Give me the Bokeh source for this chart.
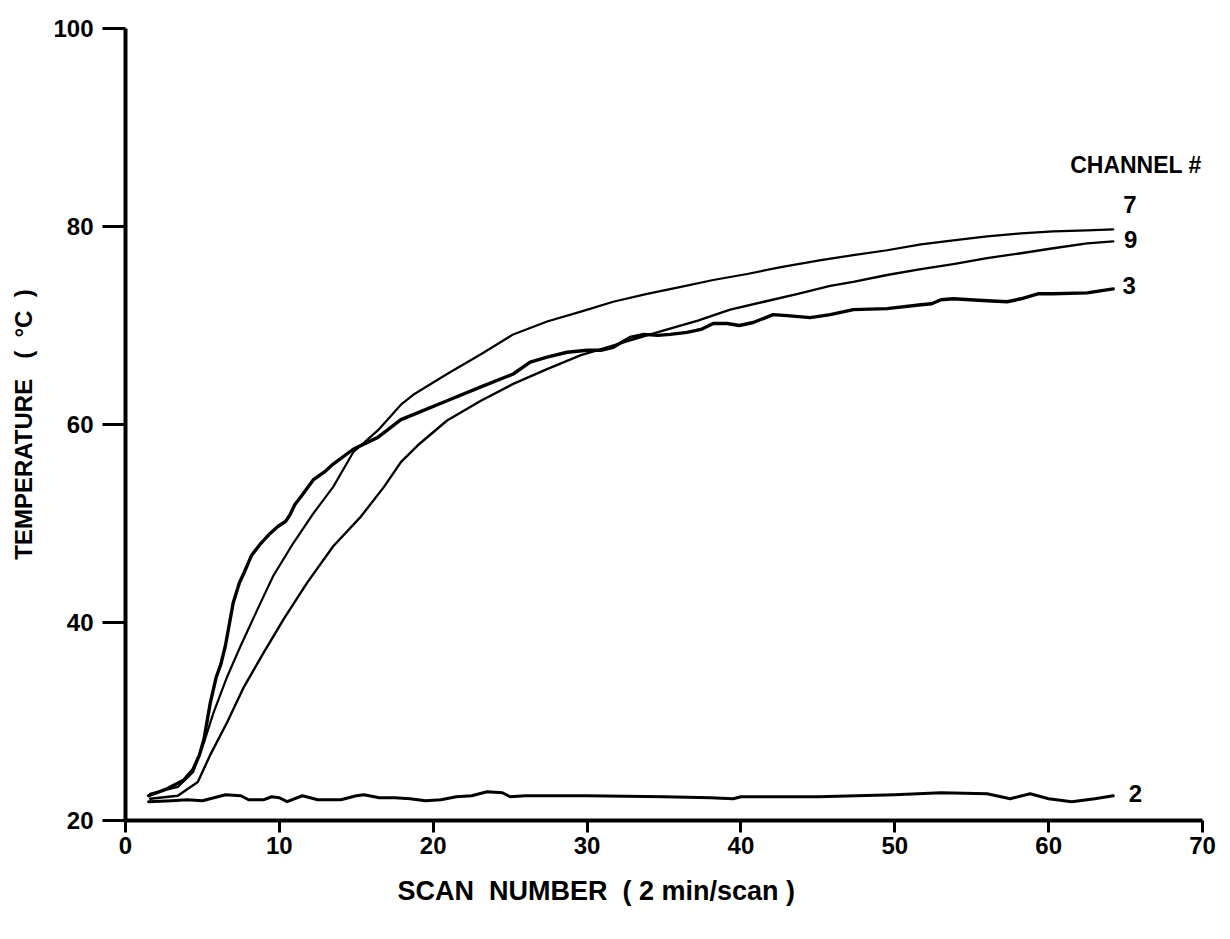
import math
from bokeh.plotting import figure
from bokeh.models import Label, FixedTicker, Range1d, Title
from bokeh.core.properties import value
from bokeh.embed import file_html
from bokeh.resources import INLINE

# ---- data ----
scan_ch7 = [1.6, 3.4, 4.4, 5.1, 5.7, 6.6, 7.5, 8.6, 9.6, 10.9, 12.2, 13.5, 14.8, 16.4, 17.9, 18.7,
            20.9, 23.1, 25.2, 27.4, 29.6, 31.7, 33.9, 36.1, 38.2, 40.4, 42.6, 45.2, 47.3, 49.5,
            51.7, 53.8, 56.0, 58.2, 60.3, 62.5, 64.2]
temp_ch7 = [22.7, 23.4, 24.9, 27.9, 30.8, 34.5, 37.7, 41.4, 44.7, 48.0, 51.0, 53.7, 57.2, 59.4, 62.0, 63.0,
            65.1, 67.1, 69.1, 70.4, 71.4, 72.4, 73.2, 73.9, 74.6, 75.2, 75.9, 76.6, 77.1, 77.6,
            78.2, 78.6, 79.0, 79.3, 79.5, 79.6, 79.7]

scan_ch9 = [1.6, 3.4, 4.7, 5.5, 6.6, 7.7, 9.0, 10.3, 11.8, 13.5, 15.3, 16.8, 17.9, 19.0, 20.9, 23.1,
            25.2, 27.4, 29.6, 31.3, 32.8, 35.0, 37.2, 39.3, 41.5, 43.7, 45.8, 47.3, 49.5, 51.7,
            53.8, 56.0, 58.2, 60.3, 62.5, 64.2]
temp_ch9 = [22.2, 22.5, 23.9, 26.6, 29.9, 33.5, 37.0, 40.4, 44.0, 47.7, 50.7, 53.7, 56.2, 57.9, 60.4, 62.4,
            64.1, 65.6, 67.0, 67.8, 68.5, 69.5, 70.5, 71.6, 72.4, 73.2, 74.0, 74.4, 75.1, 75.7,
            76.2, 76.8, 77.3, 77.8, 78.3, 78.5]

scan_ch3 = [1.5, 2.7, 3.8, 4.4, 4.8, 5.1, 5.5, 5.9, 6.2, 6.5, 7.0, 7.4, 7.7, 8.2, 8.8, 9.4, 9.9, 10.4, 10.7,
            11.0, 11.4, 12.2, 13.0, 13.5, 14.8, 16.4, 17.9, 18.7, 20.9, 23.1, 25.2, 26.3, 27.4, 28.7,
            30.0, 30.9, 31.7, 32.8, 33.7, 34.6, 35.4, 36.5, 37.4, 38.2, 39.1, 39.9, 40.8, 42.1, 43.0,
            44.5, 45.8, 47.3, 49.5, 51.7, 52.4, 53.0, 53.8, 56.0, 57.3, 58.2, 59.3, 60.3, 62.5, 64.2]
temp_ch3 = [22.5, 23.2, 24.1, 25.2, 26.6, 28.2, 31.8, 34.5, 35.8, 37.7, 42.0, 44.0, 45.0, 46.8, 48.0, 49.0,
            49.7, 50.2, 50.9, 51.9, 52.7, 54.4, 55.3, 56.0, 57.5, 58.7, 60.5, 61.0, 62.4, 63.8, 65.1, 66.3,
            66.8, 67.3, 67.5, 67.5, 67.8, 68.8, 69.1, 69.0, 69.1, 69.3, 69.6, 70.2, 70.2, 70.0, 70.3,
            71.1, 71.0, 70.8, 71.1, 71.6, 71.7, 72.1, 72.2, 72.6, 72.7, 72.5, 72.4, 72.7, 73.2, 73.2,
            73.3, 73.7]

scan_ch2 = [1.5, 3, 4, 5, 6, 6.5, 7.5, 8, 9, 9.5, 10, 10.5, 11.5, 12.5, 13, 14, 15, 15.5, 16.5, 17.5,
            18.5, 19.5, 20.5, 21.5, 22.5, 23.5, 24.5, 25, 26, 28, 30, 35, 38, 39.5, 40, 45, 50, 53,
            56, 57.5, 58.8, 60, 61.5, 63, 64.2]
temp_ch2 = [21.9, 22.0, 22.1, 22.0, 22.4, 22.6, 22.5, 22.1, 22.1, 22.4, 22.3, 21.9, 22.5, 22.1, 22.1, 22.1,
            22.5, 22.6, 22.3, 22.3, 22.2, 22.0, 22.1, 22.4, 22.5, 22.9, 22.8, 22.4, 22.5, 22.5, 22.5,
            22.4, 22.3, 22.2, 22.4, 22.4, 22.6, 22.8, 22.7, 22.2, 22.7, 22.2, 21.9, 22.2, 22.5]

channel_names = ["7", "9", "3", "2"]
x_ticks = [0, 10, 20, 30, 40, 50, 60, 70]
y_ticks = [20, 40, 60, 80, 100]

FONT = "Liberation Sans"
NB = "\u00a0"

p = figure(width=1230, height=939, x_range=Range1d(0, 70), y_range=Range1d(20, 100),
           output_backend="svg", toolbar_location=None,
           min_border_left=125, min_border_right=28, min_border_top=28, min_border_bottom=119)
p.background_fill_color = "white"
p.border_fill_color = "white"
p.outline_line_color = None
p.grid.visible = False

for ax in (p.xaxis[0], p.yaxis[0]):
    ax.axis_line_width = 4
    ax.axis_line_color = "black"
    ax.major_tick_line_width = 3
    ax.major_tick_line_color = "black"
    ax.major_tick_in = 0
    ax.minor_tick_line_color = None
    ax.major_label_text_font = FONT
    ax.major_label_text_font_style = "bold"
    ax.major_label_text_font_size = "24px"
    ax.major_label_text_color = "black"

p.xaxis.ticker = FixedTicker(ticks=x_ticks)
p.yaxis.ticker = FixedTicker(ticks=y_ticks)
p.xaxis.major_tick_out = 12
p.xaxis.major_label_standoff = 4
p.yaxis.major_tick_out = 23
p.yaxis.major_label_standoff = 9

# y axis title
p.yaxis.axis_label = "TEMPERATURE" + NB * 3 + "(" + NB * 2 + "\u00b0C" + NB * 2 + ")"
p.yaxis.axis_label_text_font = FONT
p.yaxis.axis_label_text_font_style = "bold"
p.yaxis.axis_label_text_font_size = "24px"
p.yaxis.axis_label_text_color = "black"
p.yaxis.axis_label_standoff = 13

# x axis title, as a title below the axis
xt = Title(text="SCAN" + NB * 2 + "NUMBER" + NB * 2 + "(" + NB + "2" + NB + "min/scan" + NB + ")",
           align="left", offset=272, standoff=34,
           text_font=FONT, text_font_style="bold", text_font_size="27px", text_color="black")
p.add_layout(xt, "below")

series = [
    (scan_ch7, temp_ch7, 2.2),
    (scan_ch9, temp_ch9, 2.4),
    (scan_ch3, temp_ch3, 3.4),
    (scan_ch2, temp_ch2, 3.0),
]
for xs, ys, w in series:
    p.line(xs, ys, line_color="black", line_width=w, line_join="round", line_cap="round")

# channel labels at the line ends
offsets = [(0.65, 2.5), (0.7, 0.2), (0.6, 0.3), (1.0, 0.2)]
lx, ly = [], []
for (xs, ys, _), (dx, dy) in zip(series, offsets):
    lx.append(xs[-1] + dx)
    ly.append(ys[-1] + dy)
p.text(x=lx, y=ly, text=channel_names, text_font=value(FONT), text_font_style="bold",
       text_font_size="24px", text_baseline="middle", text_align="left", text_color="black")

p.add_layout(Label(x=61.4, y=86.2, text="CHANNEL #", text_font=FONT, text_font_style="bold",
                   text_font_size="23px", text_baseline="middle", text_align="left",
                   text_color="black"))

open("out.html", "w").write(file_html(p, INLINE))
